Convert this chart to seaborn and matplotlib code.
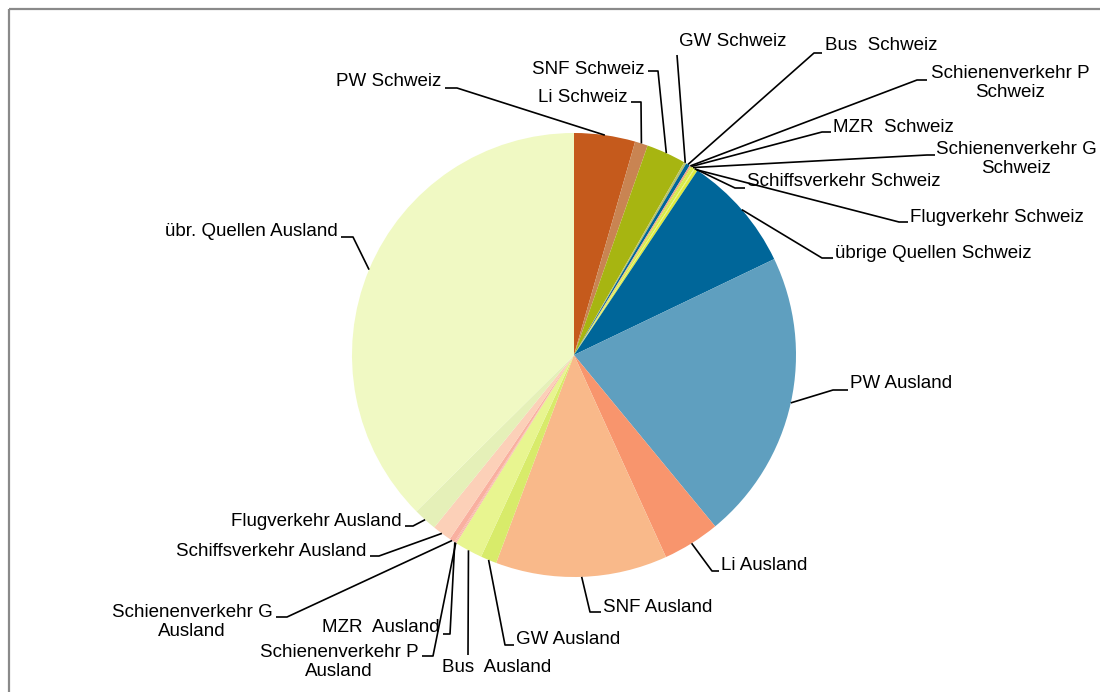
import numpy as np
import matplotlib
matplotlib.use("Agg")
import matplotlib.pyplot as plt
from matplotlib.patches import Rectangle
import seaborn as sns

# ---- data -----------------------------------------------------------------
categories = [
    "PW Schweiz", "Li Schweiz", "SNF Schweiz", "GW Schweiz", "Bus  Schweiz",
    "Schienenverkehr P\nSchweiz", "MZR  Schweiz", "Schienenverkehr G\nSchweiz",
    "Schiffsverkehr Schweiz", "Flugverkehr Schweiz", "übrige Quellen Schweiz",
    "PW Ausland", "Li Ausland", "SNF Ausland", "GW Ausland", "Bus  Ausland",
    "Schienenverkehr P\nAusland", "MZR  Ausland", "Schienenverkehr G\nAusland",
    "Schiffsverkehr Ausland", "Flugverkehr Ausland", "übr. Quellen Ausland",
]
shares = [
    4.44, 0.94, 2.89, 0.17, 0.28,
    0.11, 0.06, 0.22,
    0.06, 0.22, 8.50,
    21.14, 4.17, 12.50, 1.17, 2.03,
    0.08, 0.08, 0.39,
    1.39, 1.72, 37.44,
]
colors = [
    "#C55A1C", "#C98452", "#A7B511", "#B9C46A", "#006699",
    "#F2A08A", "#C5D932", "#D9EB4B",
    "#E6F27E", "#DDEB3E", "#006699",
    "#5F9FBF", "#F8956D", "#F9B98A", "#D8EB6A", "#E8F590",
    "#F9B5A5", "#F9B5A5", "#F9B0A0",
    "#FCD0B8", "#E5F0B8", "#F0F9C3",
]

# ---- layout (pixel units, y downwards) ----------------------------------------
# text x, text y, horizontal alignment, leader line points after the wedge anchor
layout = [
    (441, 81, "right", [(457, 88), (445, 88)]),
    (627, 97, "right", [(641, 102), (631, 102)]),
    (645, 69, "right", [(658, 71), (648, 71)]),
    (679, 42, "left", [(677, 55)]),
    (825, 46, "left", [(814, 53), (822, 53)]),
    (1010, 83, "center", [(917, 80), (927, 80)]),
    (833, 128, "left", [(822, 132), (831, 132)]),
    (1016, 159, "center", [(927, 155), (935, 155)]),
    (747, 182, "left", [(735, 188), (745, 188)]),
    (910, 217, "left", [(899, 222), (908, 222)]),
    (835, 253, "left", [(822, 258), (833, 258)]),
    (850, 383, "left", [(833, 390), (848, 390)]),
    (721, 566, "left", [(712, 571), (719, 571)]),
    (603, 607, "left", [(590, 612), (601, 612)]),
    (516, 640, "left", [(505, 645), (514, 645)]),
    (497, 668, "center", [(468, 655)]),
    (339, 662, "center", [(433, 656), (422, 656)]),
    (440, 628, "right", [(450, 634), (443, 634)]),
    (192, 622, "center", [(287, 617), (276, 617)]),
    (366, 552, "right", [(379, 556), (370, 556)]),
    (402, 522, "right", [(413, 526), (405, 526)]),
    (338, 232, "right", [(353, 237), (341, 237)]),
]

W, H = 1100, 692
sns.set_theme(style="white")
plt.rcParams["font.family"] = ["Liberation Sans", "DejaVu Sans"]

fig = plt.figure(figsize=(W / 100, H / 100), dpi=100)
ax = fig.add_axes([0, 0, 1, 1])

# y axis inverted: counterclockwise in data = clockwise on screen; -90 = top
wedges, _ = ax.pie(shares, colors=colors, startangle=-90, counterclock=True,
                   center=(574, 355), radius=222, frame=True,
                   wedgeprops=dict(linewidth=0))
ax.set_xlim(0, W)
ax.set_ylim(H, 0)
ax.set_aspect("equal")
ax.axis("off")

# outer chart frame
ax.add_patch(Rectangle((8.5, 8.5), W + 20, H + 20, fill=False,
                       edgecolor="#8A8A8A", linewidth=1.6, zorder=0))

for w, lab, (tx, ty, ha, pts) in zip(wedges, categories, layout):
    mid = np.deg2rad((w.theta1 + w.theta2) / 2)
    cx, cy = w.center
    ax0 = cx + w.r * np.cos(mid)
    ay0 = cy + w.r * np.sin(mid)
    xs = [ax0] + [p[0] for p in pts]
    ys = [ay0] + [p[1] for p in pts]
    ax.plot(xs, ys, color="black", linewidth=1.2, solid_capstyle="butt", zorder=3)
    ax.text(tx, ty, lab, ha=ha, va="center", fontsize=13.5, color="black",
            multialignment="center", linespacing=1.15, zorder=4)

fig.savefig("out.png", dpi=100, facecolor="white")
